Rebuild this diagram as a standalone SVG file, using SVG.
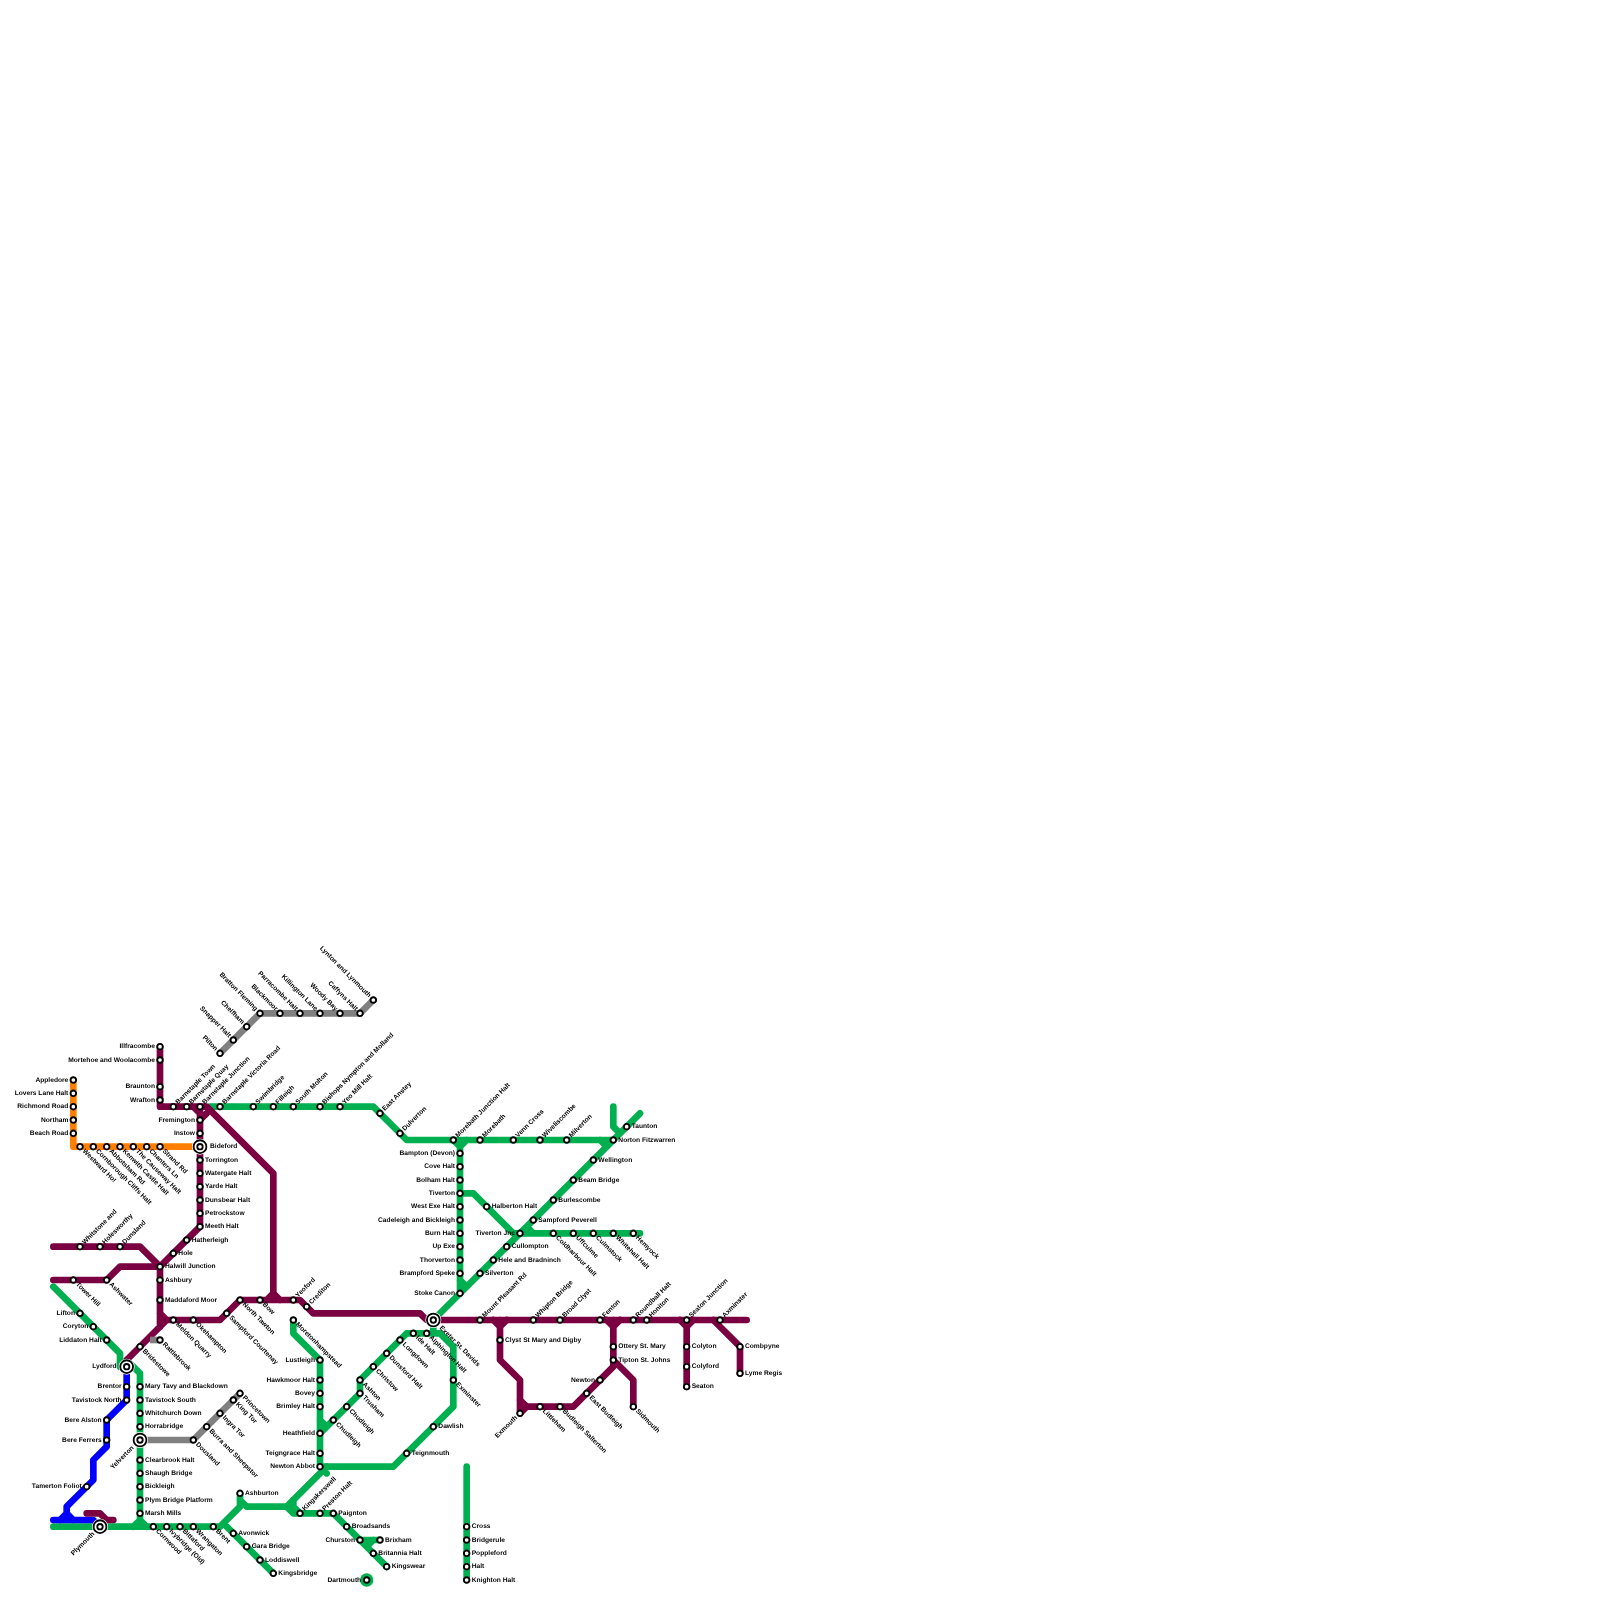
<svg xmlns="http://www.w3.org/2000/svg" width="1600" height="1600" viewBox="0 0 1600 1600">
<style>
.l{fill:none;stroke-width:6.67;stroke-linecap:round;stroke-linejoin:round}
.g{stroke:#00b050}.m{stroke:#7b0041}.o{stroke:#ff8000}.b{stroke:#0000ff}.y{stroke:#808080}
circle{fill:#fff;stroke:#000;stroke-width:1.9}
.h{stroke:none}
#nodes{opacity:.995}
text{font-family:"Liberation Sans",Arial,sans-serif;font-weight:700;font-size:6.67px;fill:#000;dominant-baseline:middle;text-rendering:geometricPrecision}
.w,.sw,.nw{text-anchor:end}
.ne,.sw{transform:rotate(-45deg)}
.se,.nw{transform:rotate(45deg)}
</style>
<defs>
<g id="st"><circle r="2.8"/></g>
<g id="ic"><circle r="8" class="h"/><circle r="6.4" style="stroke-width:1.8"/><circle r="2.7"/></g>
</defs>
<g id="connectors">
<path class="l g" d="M210,1106.67H373.33L406.67,1140H613.33M460,1140V1293.33M453.33,1140L460,1146.67L466.67,1140M600,1140L606.67,1146.67M460,1193.33H473.33L513.33,1233.33H640M526.67,1226.67L533.33,1233.33M640,1113.33L433.33,1320M613.33,1106.67V1126.67L620,1133.33M460,1280L466.67,1286.67"/>
<path class="l g" d="M53.33,1286.67L120,1353.33V1366.67M126.67,1360L140,1373.33V1526.67M53.33,1526.67H220L240,1506.67V1493.33M240,1500L246.67,1506.67H286.67L326.67,1466.67M226.67,1526.67L273.33,1573.33M133.33,1526.67L140,1520L146.67,1526.67"/>
<path class="l g" d="M433.33,1320V1333.33M440,1333.33L453.33,1346.67V1406.67L393.33,1466.67H320M293.33,1320V1333.33L320,1360V1466.67L326.67,1473.33M360,1380L406.67,1333.33H440M360,1380V1393.33L320,1433.33M320,1420L326.67,1426.67M286.67,1506.67L293.33,1513.33H333.33L386.67,1566.67M300,1513.33L293.33,1506.67V1500M360,1540H380M366.67,1546.67L373.33,1540M466.67,1466.67V1580"/>
<circle cx="366.67" cy="1580" r="6.67" style="fill:#00b050;stroke:none"/>
<path class="l o" d="M73.33,1080V1146.67H200"/>
<path class="l y" d="M220,1053.33L260,1013.33H360L373.33,1000M140,1440H193.33L240,1393.33"/>
<path class="l b" d="M126.67,1366.67V1400L106.67,1420V1446.67L93.33,1460V1480L66.67,1506.67V1513.33L60,1520M53.33,1520H93.33L100,1526.67M66.67,1513.33L73.33,1520"/>
<path class="l m" d="M160,1046.67V1106.67H206.67L273.33,1173.33V1300M193.33,1106.67L200,1113.33M200,1120L206.67,1113.33M200,1106.67V1226.67L160,1266.67V1326.67M53.33,1246.67H140L160,1266.67H120L106.67,1280H53.33M126.67,1360L166.67,1320H220L240,1300H300L313.33,1313.33H420L426.67,1320H746.67M266.67,1300L273.33,1293.33L280,1300M160,1313.33L166.67,1320"/>
<path class="l m" d="M493.33,1320L500,1326.67L506.67,1320M500,1320V1360L520,1380V1413.33L526.67,1406.67H573.33L613.33,1366.67V1320M606.67,1320L613.33,1326.67L620,1320M613.33,1360L633.33,1380V1406.67M520,1400L526.67,1406.67M686.67,1320V1386.67M680,1320L686.67,1326.67L693.33,1320M713.33,1320L740,1346.67V1373.33M86.67,1513.33H100L106.67,1520H113.33"/>
<path class="y" d="M150,1340H160" style="fill:none;stroke-width:6.67"/>
</g>
<g id="nodes">
<g id="appledore" transform="translate(73.33,1080)"><use href="#st"/><text class="w" x="-5">Appledore</text></g>
<g id="lovers-lane" transform="translate(73.33,1093.33)"><use href="#st"/><text class="w" x="-5">Lovers Lane Halt</text></g>
<g id="richmond-road" transform="translate(73.33,1106.67)"><use href="#st"/><text class="w" x="-5">Richmond Road</text></g>
<g id="northam" transform="translate(73.33,1120)"><use href="#st"/><text class="w" x="-5">Northam</text></g>
<g id="beach-road" transform="translate(73.33,1133.33)"><use href="#st"/><text class="w" x="-5">Beach Road</text></g>
<g id="westward-ho" transform="translate(80,1146.67)"><use href="#st"/><text class="se" x="5">Westward Ho!</text></g>
<g id="cornborough" transform="translate(93.33,1146.67)"><use href="#st"/><text class="se" x="5">Cornborough Cliffs Halt</text></g>
<g id="abbotsham" transform="translate(106.67,1146.67)"><use href="#st"/><text class="se" x="5">Abbotsham Rd</text></g>
<g id="kenwith" transform="translate(120,1146.67)"><use href="#st"/><text class="se" x="5">Kenwith Castle Halt</text></g>
<g id="causeway" transform="translate(133.33,1146.67)"><use href="#st"/><text class="se" x="5">The Causeway Halt</text></g>
<g id="chanters" transform="translate(146.67,1146.67)"><use href="#st"/><text class="se" x="5">Chanters Ln</text></g>
<g id="strand" transform="translate(160,1146.67)"><use href="#st"/><text class="se" x="5">Strand Rd</text></g>
<g id="illfracombe" transform="translate(160,1046.67)"><use href="#st"/><text class="w" x="-5">Illfracombe</text></g>
<g id="mortehoe" transform="translate(160,1060)"><use href="#st"/><text class="w" x="-5">Mortehoe and Woolacombe</text></g>
<g id="braunton" transform="translate(160,1086.67)"><use href="#st"/><text class="w" x="-5">Braunton</text></g>
<g id="wrafton" transform="translate(160,1100)"><use href="#st"/><text class="w" x="-5">Wrafton</text></g>
<g id="barnstaple-town" transform="translate(173.33,1106.67)"><use href="#st"/><text class="ne" x="5">Barnstaple Town</text></g>
<g id="barnstaple-quay" transform="translate(186.67,1106.67)"><use href="#st"/><text class="ne" x="5">Barnstaple Quay</text></g>
<g id="barnstaple-junction" transform="translate(200,1106.67)"><use href="#st"/><text class="ne" x="5">Barnstaple Junction</text></g>
<g id="barnstaple-victoria" transform="translate(220,1106.67)"><use href="#st"/><text class="ne" x="5">Barnstaple Victoria Road</text></g>
<g id="swimbridge" transform="translate(253.33,1106.67)"><use href="#st"/><text class="ne" x="5">Swimbridge</text></g>
<g id="filleigh" transform="translate(273.33,1106.67)"><use href="#st"/><text class="ne" x="5">Filleigh</text></g>
<g id="south-molton" transform="translate(293.33,1106.67)"><use href="#st"/><text class="ne" x="5">South Molton</text></g>
<g id="bishops-nympton" transform="translate(320,1106.67)"><use href="#st"/><text class="ne" x="5">Bishops Nympton and Molland</text></g>
<g id="yeo-mill" transform="translate(340,1106.67)"><use href="#st"/><text class="ne" x="5">Yeo Mill Halt</text></g>
<g id="east-anstey" transform="translate(380,1113.33)"><use href="#st"/><text class="ne" x="5">East Anstey</text></g>
<g id="dulverton" transform="translate(400,1133.33)"><use href="#st"/><text class="ne" x="5">Dulverton</text></g>
<g id="morebath-junction" transform="translate(453.33,1140)"><use href="#st"/><text class="ne" x="5">Morebath Junction Halt</text></g>
<g id="morebath" transform="translate(480,1140)"><use href="#st"/><text class="ne" x="5">Morebath</text></g>
<g id="venn-cross" transform="translate(513.33,1140)"><use href="#st"/><text class="ne" x="5">Venn Cross</text></g>
<g id="wiveliscombe" transform="translate(540,1140)"><use href="#st"/><text class="ne" x="5">Wiveliscombe</text></g>
<g id="milverton" transform="translate(566.67,1140)"><use href="#st"/><text class="ne" x="5">Milverton</text></g>
<g id="norton-fitzwarren" transform="translate(613.33,1140)"><use href="#st"/><text x="5">Norton Fitzwarren</text></g>
<g id="taunton" transform="translate(626.67,1126.67)"><use href="#st"/><text x="5">Taunton</text></g>
<g id="wellington" transform="translate(593.33,1160)"><use href="#st"/><text x="5">Wellington</text></g>
<g id="beam-bridge" transform="translate(573.33,1180)"><use href="#st"/><text x="5">Beam Bridge</text></g>
<g id="burlescombe" transform="translate(553.33,1200)"><use href="#st"/><text x="5">Burlescombe</text></g>
<g id="sampford-peverell" transform="translate(533.33,1220)"><use href="#st"/><text x="5">Sampford Peverell</text></g>
<g id="tiverton-jnc" transform="translate(520,1233.33)"><use href="#st"/><text class="w" x="-5">Tiverton Jnc</text></g>
<g id="cullompton" transform="translate(506.67,1246.67)"><use href="#st"/><text x="5">Cullompton</text></g>
<g id="hele" transform="translate(493.33,1260)"><use href="#st"/><text x="5">Hele and Bradninch</text></g>
<g id="silverton" transform="translate(480,1273.33)"><use href="#st"/><text x="5">Silverton</text></g>
<g id="bampton" transform="translate(460,1153.33)"><use href="#st"/><text class="w" x="-5">Bampton (Devon)</text></g>
<g id="cove" transform="translate(460,1166.67)"><use href="#st"/><text class="w" x="-5">Cove Halt</text></g>
<g id="bolham" transform="translate(460,1180)"><use href="#st"/><text class="w" x="-5">Bolham Halt</text></g>
<g id="tiverton" transform="translate(460,1193.33)"><use href="#st"/><text class="w" x="-5">Tiverton</text></g>
<g id="west-exe" transform="translate(460,1206.67)"><use href="#st"/><text class="w" x="-5">West Exe Halt</text></g>
<g id="cadeleigh" transform="translate(460,1220)"><use href="#st"/><text class="w" x="-5">Cadeleigh and Bickleigh</text></g>
<g id="burn" transform="translate(460,1233.33)"><use href="#st"/><text class="w" x="-5">Burn Halt</text></g>
<g id="up-exe" transform="translate(460,1246.67)"><use href="#st"/><text class="w" x="-5">Up Exe</text></g>
<g id="thorverton" transform="translate(460,1260)"><use href="#st"/><text class="w" x="-5">Thorverton</text></g>
<g id="brampford" transform="translate(460,1273.33)"><use href="#st"/><text class="w" x="-5">Brampford Speke</text></g>
<g id="stoke-canon" transform="translate(460,1293.33)"><use href="#st"/><text class="w" x="-5">Stoke Canon</text></g>
<g id="halberton" transform="translate(486.67,1206.67)"><use href="#st"/><text x="5">Halberton Halt</text></g>
<g id="coldharbour" transform="translate(553.33,1233.33)"><use href="#st"/><text class="se" x="5">Coldharbour Halt</text></g>
<g id="uffculme" transform="translate(573.33,1233.33)"><use href="#st"/><text class="se" x="5">Uffculme</text></g>
<g id="culmstock" transform="translate(593.33,1233.33)"><use href="#st"/><text class="se" x="5">Culmstock</text></g>
<g id="whitehall" transform="translate(613.33,1233.33)"><use href="#st"/><text class="se" x="5">Whitehall Halt</text></g>
<g id="hemyock" transform="translate(633.33,1233.33)"><use href="#st"/><text class="se" x="5">Hemyock</text></g>
<g id="exeter" transform="translate(433.33,1320)"><use href="#ic"/><text class="se" x="10">Exeter St. Davids</text></g>
<g id="mount-pleasant" transform="translate(480,1320)"><use href="#st"/><text class="ne" x="5">Mount Pleasant Rd</text></g>
<g id="whipton" transform="translate(533.33,1320)"><use href="#st"/><text class="ne" x="5">Whipton Bridge</text></g>
<g id="broad-clyst" transform="translate(560,1320)"><use href="#st"/><text class="ne" x="5">Broad Clyst</text></g>
<g id="fenton" transform="translate(600,1320)"><use href="#st"/><text class="ne" x="5">Fenton</text></g>
<g id="roundball" transform="translate(633.33,1320)"><use href="#st"/><text class="ne" x="5">Roundball Halt</text></g>
<g id="honiton" transform="translate(646.67,1320)"><use href="#st"/><text class="ne" x="5">Honiton</text></g>
<g id="seaton-junction" transform="translate(686.67,1320)"><use href="#st"/><text class="ne" x="5">Seaton Junction</text></g>
<g id="axminster" transform="translate(720,1320)"><use href="#st"/><text class="ne" x="5">Axminster</text></g>
<g id="combpyne" transform="translate(740,1346.67)"><use href="#st"/><text x="5">Combpyne</text></g>
<g id="lyme-regis" transform="translate(740,1373.33)"><use href="#st"/><text x="5">Lyme Regis</text></g>
<g id="colyton" transform="translate(686.67,1346.67)"><use href="#st"/><text x="5">Colyton</text></g>
<g id="colyford" transform="translate(686.67,1366.67)"><use href="#st"/><text x="5">Colyford</text></g>
<g id="seaton" transform="translate(686.67,1386.67)"><use href="#st"/><text x="5">Seaton</text></g>
<g id="ottery" transform="translate(613.33,1346.67)"><use href="#st"/><text x="5">Ottery St. Mary</text></g>
<g id="tipton" transform="translate(613.33,1360)"><use href="#st"/><text x="5">Tipton St. Johns</text></g>
<g id="newton" transform="translate(600,1380)"><use href="#st"/><text class="w" x="-5">Newton</text></g>
<g id="east-budleigh" transform="translate(586.67,1393.33)"><use href="#st"/><text class="se" x="5">East Budleigh</text></g>
<g id="budleigh-salterton" transform="translate(560,1406.67)"><use href="#st"/><text class="se" x="5">Budleigh Salterton</text></g>
<g id="littleham" transform="translate(540,1406.67)"><use href="#st"/><text class="se" x="5">Littleham</text></g>
<g id="exmouth" transform="translate(520,1413.33)"><use href="#st"/><text class="sw" x="-5">Exmouth</text></g>
<g id="sidmouth" transform="translate(633.33,1406.67)"><use href="#st"/><text class="se" x="5">Sidmouth</text></g>
<g id="clyst" transform="translate(500,1340)"><use href="#st"/><text x="5">Clyst St Mary and Digby</text></g>
<g id="pilton" transform="translate(220,1053.33)"><use href="#st"/><text class="nw" x="-5">Pilton</text></g>
<g id="snapper" transform="translate(233.33,1040)"><use href="#st"/><text class="nw" x="-5">Snapper Halt</text></g>
<g id="chelfham" transform="translate(246.67,1026.67)"><use href="#st"/><text class="nw" x="-5">Chelfham</text></g>
<g id="bratton" transform="translate(260,1013.33)"><use href="#st"/><text class="nw" x="-5">Bratton Fleming</text></g>
<g id="blackmoor" transform="translate(280,1013.33)"><use href="#st"/><text class="nw" x="-5">Blackmoor</text></g>
<g id="parracombe" transform="translate(300,1013.33)"><use href="#st"/><text class="nw" x="-5">Parracombe Halt</text></g>
<g id="killington" transform="translate(320,1013.33)"><use href="#st"/><text class="nw" x="-5">Killington Lane</text></g>
<g id="woody-bay" transform="translate(340,1013.33)"><use href="#st"/><text class="nw" x="-5">Woody Bay</text></g>
<g id="caffyns" transform="translate(360,1013.33)"><use href="#st"/><text class="nw" x="-5">Caffyns Halt</text></g>
<g id="lynton" transform="translate(373.33,1000)"><use href="#st"/><text class="nw" x="-5">Lynton and Lynmouth</text></g>
<g id="fremington" transform="translate(200,1120)"><use href="#st"/><text class="w" x="-5">Fremington</text></g>
<g id="instow" transform="translate(200,1133.33)"><use href="#st"/><text class="w" x="-5">Instow</text></g>
<g id="bideford" transform="translate(200,1146.67)"><use href="#ic"/><text x="10">Bideford</text></g>
<g id="torrington" transform="translate(200,1160)"><use href="#st"/><text x="5">Torrington</text></g>
<g id="watergate" transform="translate(200,1173.33)"><use href="#st"/><text x="5">Watergate Halt</text></g>
<g id="yarde" transform="translate(200,1186.67)"><use href="#st"/><text x="5">Yarde Halt</text></g>
<g id="dunsbear" transform="translate(200,1200)"><use href="#st"/><text x="5">Dunsbear Halt</text></g>
<g id="petrockstow" transform="translate(200,1213.33)"><use href="#st"/><text x="5">Petrockstow</text></g>
<g id="meeth" transform="translate(200,1226.67)"><use href="#st"/><text x="5">Meeth Halt</text></g>
<g id="hatherleigh" transform="translate(186.67,1240)"><use href="#st"/><text x="5">Hatherleigh</text></g>
<g id="hole" transform="translate(173.33,1253.33)"><use href="#st"/><text x="5">Hole</text></g>
<g id="halwill" transform="translate(160,1266.67)"><use href="#st"/><text x="5">Halwill Junction</text></g>
<g id="ashbury" transform="translate(160,1280)"><use href="#st"/><text x="5">Ashbury</text></g>
<g id="maddaford" transform="translate(160,1300)"><use href="#st"/><text x="5">Maddaford Moor</text></g>
<g id="whitstone" transform="translate(80,1246.67)"><use href="#st"/><text class="ne" x="5">Whitstone and</text></g>
<g id="holesworthy" transform="translate(100,1246.67)"><use href="#st"/><text class="ne" x="5">Holesworthy</text></g>
<g id="dunsland" transform="translate(120,1246.67)"><use href="#st"/><text class="ne" x="5">Dunsland</text></g>
<g id="tower-hill" transform="translate(73.33,1280)"><use href="#st"/><text class="se" x="5">Tower Hill</text></g>
<g id="ashwater" transform="translate(106.67,1280)"><use href="#st"/><text class="se" x="5">Ashwater</text></g>
<g id="lifton" transform="translate(80,1313.33)"><use href="#st"/><text class="w" x="-5">Lifton</text></g>
<g id="coryton" transform="translate(93.33,1326.67)"><use href="#st"/><text class="w" x="-5">Coryton</text></g>
<g id="liddaton" transform="translate(106.67,1340)"><use href="#st"/><text class="w" x="-5">Liddaton Halt</text></g>
<g id="lydford" transform="translate(126.67,1366.67)"><use href="#ic"/><text class="w" x="-10">Lydford</text></g>
<g id="bridestowe" transform="translate(140,1346.67)"><use href="#st"/><text class="se" x="5">Bridestowe</text></g>
<g id="rattlebrook" transform="translate(160,1340)"><use href="#st"/><text class="se" x="5">Rattlebrook</text></g>
<g id="meldon" transform="translate(173.33,1320)"><use href="#st"/><text class="se" x="5">Meldon Quarry</text></g>
<g id="okehampton" transform="translate(193.33,1320)"><use href="#st"/><text class="se" x="5">Okehampton</text></g>
<g id="sampford-courtenay" transform="translate(226.67,1313.33)"><use href="#st"/><text class="se" x="5">Sampford Courtenay</text></g>
<g id="north-tawton" transform="translate(240,1300)"><use href="#st"/><text class="se" x="5">North Tawton</text></g>
<g id="bow" transform="translate(260,1300)"><use href="#st"/><text class="se" x="5">Bow</text></g>
<g id="yeoford" transform="translate(293.33,1300)"><use href="#st"/><text class="ne" x="5">Yeoford</text></g>
<g id="crediton" transform="translate(306.67,1306.67)"><use href="#st"/><text class="ne" x="5">Crediton</text></g>
<g id="moretonhampstead" transform="translate(293.33,1320)"><use href="#st"/><text class="se" x="5">Moretonhampstead</text></g>
<g id="lustleigh" transform="translate(320,1360)"><use href="#st"/><text class="w" x="-5">Lustleigh</text></g>
<g id="hawkmoor" transform="translate(320,1380)"><use href="#st"/><text class="w" x="-5">Hawkmoor Halt</text></g>
<g id="bovey" transform="translate(320,1393.33)"><use href="#st"/><text class="w" x="-5">Bovey</text></g>
<g id="brimley" transform="translate(320,1406.67)"><use href="#st"/><text class="w" x="-5">Brimley Halt</text></g>
<g id="heathfield" transform="translate(320,1433.33)"><use href="#st"/><text class="w" x="-5">Heathfield</text></g>
<g id="teigngrace" transform="translate(320,1453.33)"><use href="#st"/><text class="w" x="-5">Teigngrace Halt</text></g>
<g id="newton-abbot" transform="translate(320,1466.67)"><use href="#st"/><text class="w" x="-5">Newton Abbot</text></g>
<g id="ide" transform="translate(413.33,1333.33)"><use href="#st"/><text class="se" x="5">Ide Halt</text></g>
<g id="alphington" transform="translate(426.67,1333.33)"><use href="#st"/><text class="se" x="5">Alphington Halt</text></g>
<g id="longdown" transform="translate(400,1340)"><use href="#st"/><text class="se" x="5">Longdown</text></g>
<g id="dunsford" transform="translate(386.67,1353.33)"><use href="#st"/><text class="se" x="5">Dunsford Halt</text></g>
<g id="christow" transform="translate(373.33,1366.67)"><use href="#st"/><text class="se" x="5">Christow</text></g>
<g id="ashton" transform="translate(360,1380)"><use href="#st"/><text class="se" x="5">Ashton</text></g>
<g id="trusham" transform="translate(360,1393.33)"><use href="#st"/><text class="se" x="5">Trusham</text></g>
<g id="chudleigh-1" transform="translate(346.67,1406.67)"><use href="#st"/><text class="se" x="5">Chudleigh</text></g>
<g id="chudleigh-2" transform="translate(333.33,1420)"><use href="#st"/><text class="se" x="5">Chudleigh</text></g>
<g id="exminster" transform="translate(453.33,1380)"><use href="#st"/><text class="se" x="5">Exminster</text></g>
<g id="dawlish" transform="translate(433.33,1426.67)"><use href="#st"/><text x="5">Dawlish</text></g>
<g id="teignmouth" transform="translate(406.67,1453.33)"><use href="#st"/><text x="5">Teignmouth</text></g>
<g id="kingskerswell" transform="translate(300,1513.33)"><use href="#st"/><text class="ne" x="5">Kingskerswell</text></g>
<g id="preston" transform="translate(320,1513.33)"><use href="#st"/><text class="ne" x="5">Preston Halt</text></g>
<g id="paignton" transform="translate(333.33,1513.33)"><use href="#st"/><text x="5">Paignton</text></g>
<g id="broadsands" transform="translate(346.67,1526.67)"><use href="#st"/><text x="5">Broadsands</text></g>
<g id="churston" transform="translate(360,1540)"><use href="#st"/><text class="w" x="-5">Churston</text></g>
<g id="brixham" transform="translate(380,1540)"><use href="#st"/><text x="5">Brixham</text></g>
<g id="britannia" transform="translate(373.33,1553.33)"><use href="#st"/><text x="5">Britannia Halt</text></g>
<g id="kingswear" transform="translate(386.67,1566.67)"><use href="#st"/><text x="5">Kingswear</text></g>
<g id="dartmouth" transform="translate(366.67,1580)"><use href="#st"/><text class="w" x="-5.5">Dartmouth</text></g>
<g id="cross" transform="translate(466.67,1526.67)"><use href="#st"/><text x="5">Cross</text></g>
<g id="bridgerule" transform="translate(466.67,1540)"><use href="#st"/><text x="5">Bridgerule</text></g>
<g id="poppleford" transform="translate(466.67,1553.33)"><use href="#st"/><text x="5">Poppleford</text></g>
<g id="halt" transform="translate(466.67,1566.67)"><use href="#st"/><text x="5">Halt</text></g>
<g id="knighton" transform="translate(466.67,1580)"><use href="#st"/><text x="5">Knighton Halt</text></g>
<g id="brentor" transform="translate(126.67,1386.67)"><use href="#st"/><text class="w" x="-5">Brentor</text></g>
<g id="tavistock-north" transform="translate(126.67,1400)"><use href="#st"/><text class="w" x="-5">Tavistock North</text></g>
<g id="bere-alston" transform="translate(106.67,1420)"><use href="#st"/><text class="w" x="-5">Bere Alston</text></g>
<g id="bere-ferrers" transform="translate(106.67,1440)"><use href="#st"/><text class="w" x="-5">Bere Ferrers</text></g>
<g id="tamerton" transform="translate(86.67,1486.67)"><use href="#st"/><text class="w" x="-5">Tamerton Foliot</text></g>
<g id="plymouth" transform="translate(100,1526.67)"><use href="#ic"/><text class="sw" x="-9">Plymouth</text></g>
<g id="mary-tavy" transform="translate(140,1386.67)"><use href="#st"/><text x="5">Mary Tavy and Blackdown</text></g>
<g id="tavistock-south" transform="translate(140,1400)"><use href="#st"/><text x="5">Tavistock South</text></g>
<g id="whitchurch" transform="translate(140,1413.33)"><use href="#st"/><text x="5">Whitchurch Down</text></g>
<g id="horrabridge" transform="translate(140,1426.67)"><use href="#st"/><text x="5">Horrabridge</text></g>
<g id="yelverton" transform="translate(140,1440)"><use href="#ic"/><text class="sw" x="-10">Yelverton</text></g>
<g id="clearbrook" transform="translate(140,1460)"><use href="#st"/><text x="5">Clearbrook Halt</text></g>
<g id="shaugh" transform="translate(140,1473.33)"><use href="#st"/><text x="5">Shaugh Bridge</text></g>
<g id="bickleigh" transform="translate(140,1486.67)"><use href="#st"/><text x="5">Bickleigh</text></g>
<g id="plym-bridge" transform="translate(140,1500)"><use href="#st"/><text x="5">Plym Bridge Platform</text></g>
<g id="marsh-mills" transform="translate(140,1513.33)"><use href="#st"/><text x="5">Marsh Mills</text></g>
<g id="dousland" transform="translate(193.33,1440)"><use href="#st"/><text class="se" x="5">Dousland</text></g>
<g id="burra" transform="translate(206.67,1426.67)"><use href="#st"/><text class="se" x="5">Burra and Sheepstor</text></g>
<g id="ingra-tor" transform="translate(220,1413.33)"><use href="#st"/><text class="se" x="5">Ingra Tor</text></g>
<g id="king-tor" transform="translate(233.33,1400)"><use href="#st"/><text class="se" x="5">King Tor</text></g>
<g id="princetown" transform="translate(240,1393.33)"><use href="#st"/><text class="se" x="5">Princetown</text></g>
<g id="cornwood" transform="translate(153.33,1526.67)"><use href="#st"/><text class="se" x="5">Cornwood</text></g>
<g id="ivybridge" transform="translate(166.67,1526.67)"><use href="#st"/><text class="se" x="5">Ivybridge (Old)</text></g>
<g id="bittaford" transform="translate(180,1526.67)"><use href="#st"/><text class="se" x="5">Bittaford</text></g>
<g id="wrangaton" transform="translate(193.33,1526.67)"><use href="#st"/><text class="se" x="5">Wrangaton</text></g>
<g id="brent" transform="translate(213.33,1526.67)"><use href="#st"/><text class="se" x="5">Brent</text></g>
<g id="ashburton" transform="translate(240,1493.33)"><use href="#st"/><text x="5">Ashburton</text></g>
<g id="avonwick" transform="translate(233.33,1533.33)"><use href="#st"/><text x="5">Avonwick</text></g>
<g id="gara-bridge" transform="translate(246.67,1546.67)"><use href="#st"/><text x="5">Gara Bridge</text></g>
<g id="loddiswell" transform="translate(260,1560)"><use href="#st"/><text x="5">Loddiswell</text></g>
<g id="kingsbridge" transform="translate(273.33,1573.33)"><use href="#st"/><text x="5">Kingsbridge</text></g>
</g>
</svg>
